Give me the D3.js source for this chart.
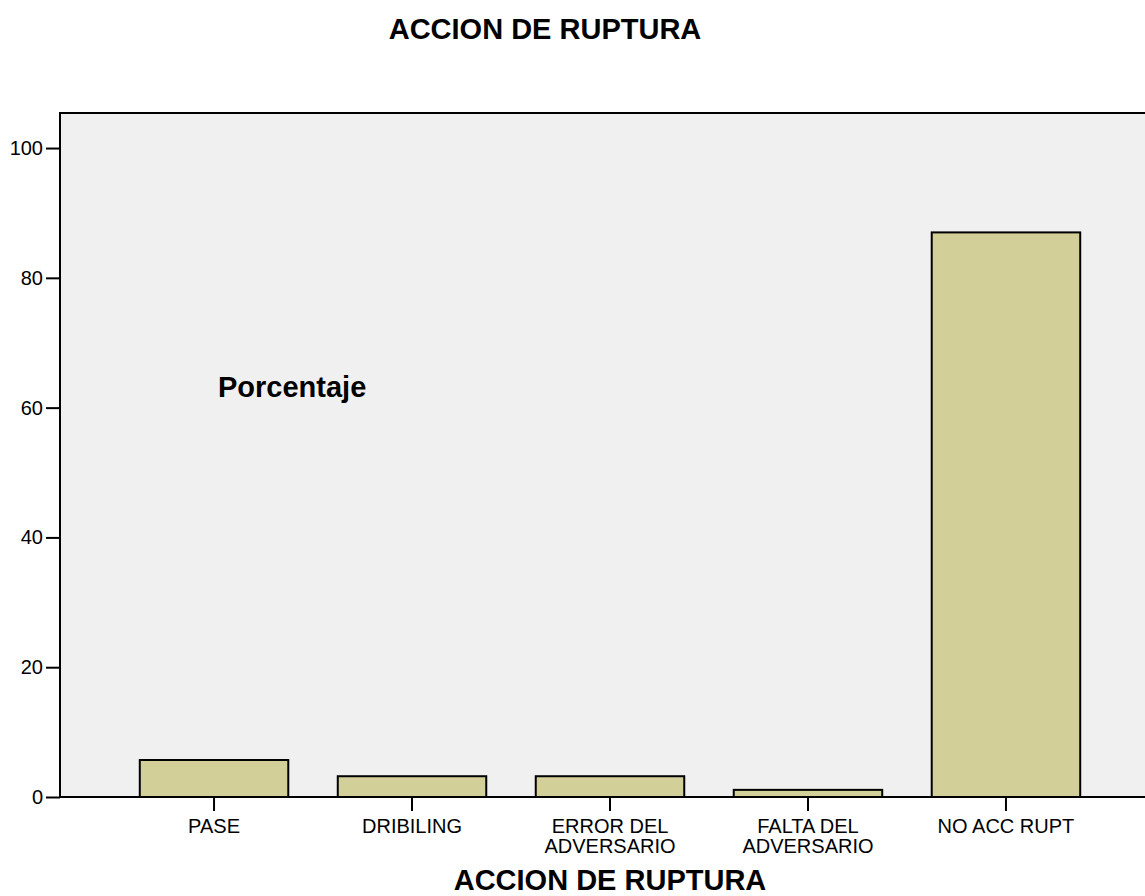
<!DOCTYPE html>
<html>
<head>
<meta charset="utf-8">
<script src="https://cdn.jsdelivr.net/npm/d3@7"></script>
<style>
  body { margin: 0; background: #fff; }
  svg { display: block; font-family: "Liberation Sans", Arial, sans-serif; }
</style>
</head>
<body>
<svg id="canvas" width="1145" height="896"></svg>
<script>
// Data
var categories = [['PASE'], ['DRIBILING'], ['ERROR DEL', 'ADVERSARIO'], ['FALTA DEL', 'ADVERSARIO'], ['NO ACC RUPT']];
var percentages = [5.7, 3.2, 3.2, 1.1, 87.0];
var yTicks = [0, 20, 40, 60, 80, 100];

var margin = { top: 113, right: -15, bottom: 99, left: 60 };
var width = 1145, height = 896;

var svg = d3.select('#canvas');

var x = d3.scaleBand()
  .domain(d3.range(categories.length))
  .range([margin.left, width - margin.right])
  .paddingInner(0.25)
  .paddingOuter(0.403);

var y = d3.scaleLinear()
  .domain([0, 105.4])
  .range([height - margin.bottom, margin.top]);

// plot background + frame
svg.append('rect')
  .attr('x', margin.left)
  .attr('y', margin.top)
  .attr('width', width - margin.right - margin.left)
  .attr('height', y(0) - margin.top)
  .attr('fill', '#f0f0f0')
  .attr('stroke', '#000')
  .attr('stroke-width', 2);

// bars
svg.append('g').selectAll('rect')
  .data(percentages)
  .enter()
  .append('rect')
  .attr('x', function (d, i) { return x(i); })
  .attr('y', function (d) { return y(d); })
  .attr('width', x.bandwidth())
  .attr('height', function (d) { return y(0) - y(d); })
  .attr('fill', '#d3cf98')
  .attr('stroke', '#000')
  .attr('stroke-width', 2);

// y axis
var yAxis = svg.append('g')
  .attr('transform', 'translate(' + margin.left + ',0)')
  .call(d3.axisLeft(y).tickValues(yTicks).tickSize(14).tickPadding(3));
yAxis.select('.domain').remove();
yAxis.selectAll('line').attr('stroke-width', 2);
yAxis.selectAll('text').attr('font-size', 20).attr('fill', '#000')
  .attr('font-family', '"Liberation Sans", Arial, sans-serif');

// x axis
var xAxis = svg.append('g')
  .attr('transform', 'translate(0,' + y(0) + ')')
  .call(d3.axisBottom(x).tickSize(14).tickFormat(''));
xAxis.select('.domain').attr('stroke-width', 2).attr('d', 'M' + margin.left + ',0H' + width);
xAxis.selectAll('line').attr('stroke-width', 2);
xAxis.selectAll('.tick').append('text')
  .attr('fill', '#000')
  .attr('font-size', 20)
  .attr('text-anchor', 'middle')
  .attr('font-family', '"Liberation Sans", Arial, sans-serif')
  .selectAll('tspan')
  .data(function (d) { return categories[d]; })
  .enter()
  .append('tspan')
  .attr('x', 0)
  .attr('y', function (d, i) { return 36 + i * 20; })
  .text(function (d) { return d; });

// titles
svg.append('text')
  .attr('x', 545)
  .attr('y', 39)
  .attr('text-anchor', 'middle')
  .attr('font-size', 29)
  .attr('font-weight', 'bold')
  .text('ACCION DE RUPTURA');

svg.append('text')
  .attr('x', 218)
  .attr('y', 397)
  .attr('font-size', 29)
  .attr('font-weight', 'bold')
  .text('Porcentaje');

svg.append('text')
  .attr('x', (margin.left + width - margin.right) / 2)
  .attr('y', 890)
  .attr('text-anchor', 'middle')
  .attr('font-size', 29)
  .attr('font-weight', 'bold')
  .text('ACCION DE RUPTURA');
</script>
</body>
</html>
